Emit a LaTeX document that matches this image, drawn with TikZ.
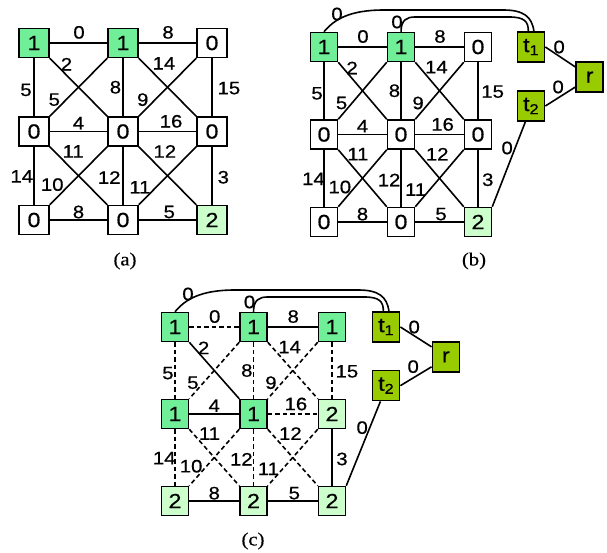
\documentclass[tikz,border=0pt]{standalone}
\usepackage{fontspec}
\setmainfont{Liberation Sans}[FakeStretch=1.13,FakeBold=0.6]
\newfontfamily\capfont{Liberation Serif}[FakeStretch=1.12,FakeBold=0.4]
\definecolor{dgreen}{HTML}{70EE98}
\definecolor{lgreen}{HTML}{CCFFCC}
\definecolor{olivegr}{HTML}{99CC00}
\tikzset{
 box/.style={draw=black, line width=1.5pt, minimum width=27pt, minimum height=29pt, inner sep=0pt, font=\fontsize{20.5}{22}\selectfont},
 one/.style={box, fill=dgreen},
 two/.style={box, fill=lgreen},
 zero/.style={box, fill=white},
 term/.style={box, fill=olivegr, minimum width=27pt, minimum height=30pt},
 edge/.style={line width=1.6pt, black},
 lite/.style={},
 lbl/.style={inner sep=0pt, font=\fontsize{18}{20}\selectfont},
 captext/.style={inner sep=0pt, font=\capfont\fontsize{18.5}{20}\selectfont},
}
\newcommand\meshedges[1]{%
 \draw[edge,lite] (#1n11) -- (#1n12);
 \draw[edge] (#1n12) -- (#1n13);
 \draw[edge,lite] (#1n11) -- (#1n21);
 \draw[edge,lite] (#1n12) -- (#1n22);
 \draw[edge,lite] (#1n13) -- (#1n23);
 \draw[edge] (#1n11.south east) -- (#1n22.north west);
 \draw[edge,lite] (#1n12.south west) -- (#1n21.north east);
 \draw[edge,lite] (#1n12.south east) -- (#1n23.north west);
 \draw[edge,lite] (#1n13.south west) -- (#1n22.north east);
 \draw[edge] (#1n21) -- (#1n22);
 \draw[edge,lite] (#1n22) -- (#1n23);
 \draw[edge,lite] (#1n21) -- (#1n31);
 \draw[edge,lite] (#1n22) -- (#1n32);
 \draw[edge] (#1n23) -- (#1n33);
 \draw[edge,lite] (#1n21.south east) -- (#1n32.north west);
 \draw[edge,lite] (#1n22.south west) -- (#1n31.north east);
 \draw[edge,lite] (#1n22.south east) -- (#1n33.north west);
 \draw[edge,lite] (#1n23.south west) -- (#1n32.north east);
 \draw[edge] (#1n31) -- (#1n32);
 \draw[edge] (#1n32) -- (#1n33);
 \node[lbl] (#1l1) at (0.506,-0.12) {0};
 \node[lbl] (#1l2) at (1.506,-0.12) {8};
 \node[lbl] (#1l3) at (0.365,0.24) {2};
 \node[lbl] (#1l4) at (1.46,0.23) {14};
 \node[lbl] (#1l5) at (-0.09,0.53) {5};
 \node[lbl] (#1l6) at (0.915,0.5) {8};
 \node[lbl] (#1l7) at (2.19,0.51) {15};
 \node[lbl] (#1l8) at (0.228,0.64) {5};
 \node[lbl] (#1l9) at (1.222,0.64) {9};
 \node[lbl] (#1l10) at (0.5,0.905) {4};
 \node[lbl] (#1l11) at (1.54,0.885) {16};
 \node[lbl] (#1l12) at (0.44,1.225) {11};
 \node[lbl] (#1l13) at (1.47,1.225) {12};
 \node[lbl] (#1l14) at (-0.137,1.507) {14};
 \node[lbl] (#1l15) at (0.205,1.6) {10};
 \node[lbl] (#1l16) at (0.845,1.52) {12};
 \node[lbl] (#1l17) at (1.19,1.63) {11};
 \node[lbl] (#1l18) at (2.127,1.517) {3};
 \node[lbl] (#1l19) at (0.5,1.91) {8};
 \node[lbl] (#1l20) at (1.52,1.91) {5};
}
\newcommand\termpart[1]{%
 \node[term] (#1t1) at (2.69,0) {t\textsubscript{1}};
 \node[term] (#1t2) at (2.69,0.674) {t\textsubscript{2}};
 \node[term] (#1r) at (3.45,0.343) {r};
 \coordinate (#1o1) at ([xshift=60pt,yshift=37pt]#1n11.center);
 \coordinate (#1o2) at ([xshift=-28pt,yshift=37pt]#1t1.center);
 \coordinate (#1i1) at ([xshift=14pt,yshift=30pt]#1n12.center);
 \coordinate (#1i2) at ([xshift=-22pt,yshift=30pt]#1t1.center);
 \draw[edge] (#1n11.north) .. controls +(10pt,12pt) and +(-35pt,0pt) .. (#1o1) -- (#1o2) .. controls +(20pt,0pt) and +(-2pt,15pt) .. (#1t1.80);
 \draw[edge] (#1n12.north) .. controls +(0pt,12pt) and +(-8pt,0pt) .. (#1i1) -- (#1i2) .. controls +(15pt,0pt) and +(0pt,10pt) .. (#1t1.100);
 \draw[edge] (#1t1.east) -- (#1r.145);
 \draw[edge] (#1t2.east) -- (#1r.215);
 \draw[edge] (#1t2.250) -- (#1n33.north east);
 \node[lbl] (#1c1) at ([xshift=13pt,yshift=33pt]#1n11.center) {0};
 \node[lbl] (#1c2) at ([xshift=-4pt,yshift=25pt]#1n12.center) {0};
 \node[lbl] (#1c3) at ([xshift=28pt]#1t1.center) {0};
 \node[lbl] (#1c4) at ([xshift=27pt,yshift=19pt]#1t2.center) {0};
 \node[lbl] (#1c5) at ([xshift=-24pt,yshift=-42pt]#1t2.center) {0};
}
\begin{document}
\begin{tikzpicture}
\useasboundingbox[fill=white] (0pt,0pt) rectangle (607pt,-553pt);
% panel (a)
\begin{scope}[shift={(34pt,-43pt)}, x=89pt, y=-88.5pt, box/.append style={minimum width=30pt}]
 \node[one] (an11) at (0,0) {1};
 \node[one] (an12) at (1,0) {1};
 \node[zero] (an13) at (2,0) {0};
 \node[zero] (an21) at (0,1) {0};
 \node[zero] (an22) at (1,1) {0};
 \node[zero] (an23) at (2,1) {0};
 \node[zero] (an31) at (0,2) {0};
 \node[zero] (an32) at (1,2) {0};
 \node[two] (an33) at (2,2) {2};
 \meshedges{a}
\end{scope}
\node[captext] (capa) at (125pt,-261pt) {(a)};
% panel (b)
\begin{scope}[shift={(324pt,-47pt)}, x=77pt, y=-87.5pt]
 \node[one] (bn11) at (0,0) {1};
 \node[one] (bn12) at (1,0) {1};
 \node[zero] (bn13) at (2,0) {0};
 \node[zero] (bn21) at (0,1) {0};
 \node[zero] (bn22) at (1,1) {0};
 \node[zero] (bn23) at (2,1) {0};
 \node[zero] (bn31) at (0,2) {0};
 \node[zero] (bn32) at (1,2) {0};
 \node[two] (bn33) at (2,2) {2};
 \meshedges{b}
 \termpart{b}
\end{scope}
\node[captext] (capb) at (474pt,-261pt) {(b)};
% panel (c)
\begin{scope}[shift={(175pt,-327pt)}, x=78.5pt, y=-87pt, lite/.style={dash pattern=on 4.5pt off 3pt}]
 \node[one] (cn11) at (0,0) {1};
 \node[one] (cn12) at (1,0) {1};
 \node[one] (cn13) at (2,0) {1};
 \node[one] (cn21) at (0,1) {1};
 \node[one] (cn22) at (1,1) {1};
 \node[two] (cn23) at (2,1) {2};
 \node[two] (cn31) at (0,2) {2};
 \node[two] (cn32) at (1,2) {2};
 \node[two] (cn33) at (2,2) {2};
 \meshedges{c}
 \termpart{c}
\end{scope}
\node[captext] (capc) at (253pt,-541pt) {(c)};
\end{tikzpicture}
\end{document}
